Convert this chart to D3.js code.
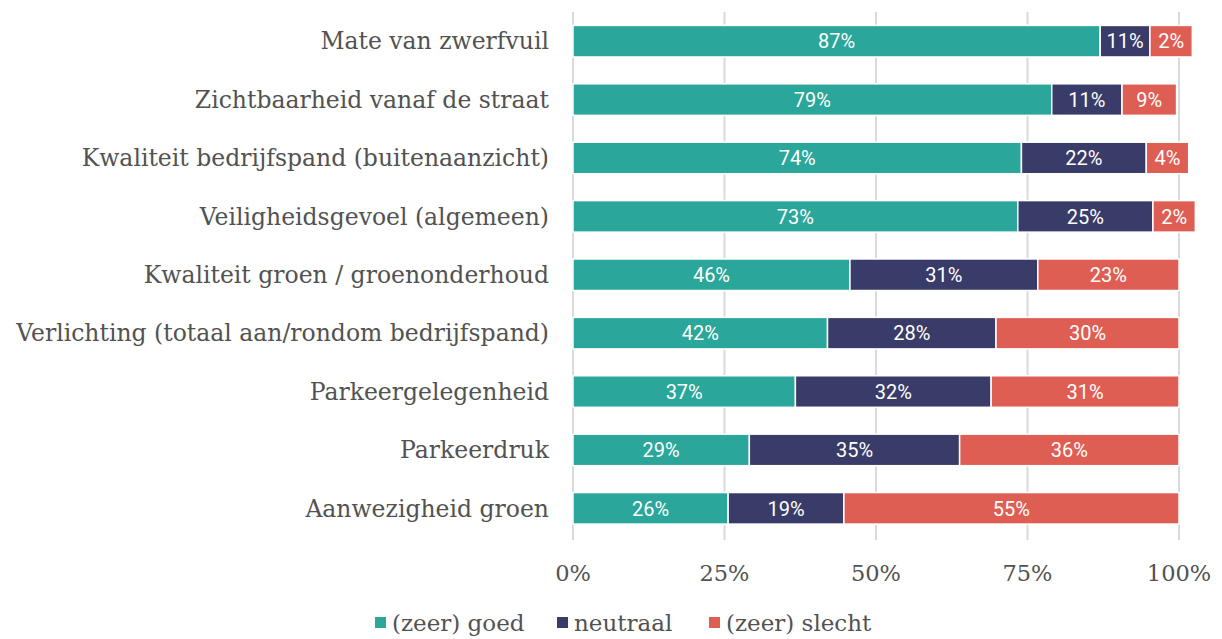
<!DOCTYPE html>
<html>
<head>
<meta charset="utf-8">
<script src="https://cdn.jsdelivr.net/npm/d3@7"></script>
<style>
  body { margin: 0; background: #fff; }
  svg { display: block; }
</style>
</head>
<body>
<div id="chart"></div>
<script>
// categories, top to bottom
var categories = [
  "Mate van zwerfvuil",
  "Zichtbaarheid vanaf de straat",
  "Kwaliteit bedrijfspand (buitenaanzicht)",
  "Veiligheidsgevoel (algemeen)",
  "Kwaliteit groen / groenonderhoud",
  "Verlichting (totaal aan/rondom bedrijfspand)",
  "Parkeergelegenheid",
  "Parkeerdruk",
  "Aanwezigheid groen"
];
// segment lengths as drawn in the picture (%)
var goed     = [87, 79, 74, 73.4, 45.7, 42, 36.7, 29.1, 25.6];
var neutraal = [8.2, 11.6, 20.6, 22.3, 31, 27.8, 32.3, 34.7, 19.1];
var slecht   = [7.0, 9.0, 7.0, 7.0, 23.3, 30.2, 31, 36.2, 55.3];
// printed labels
var goedLabels     = [87, 79, 74, 73, 46, 42, 37, 29, 26];
var neutraalLabels = [11, 11, 22, 25, 31, 28, 32, 35, 19];
var slechtLabels   = [2, 9, 4, 2, 23, 30, 31, 36, 55];

var seriesNames = ["(zeer) goed", "neutraal", "(zeer) slecht"];
var colors = ["#2aa69b", "#393b69", "#df5e53"];
var ticks = [0, 25, 50, 75, 100];

var width = 1222, height = 639;
var serif = "'DejaVu Serif', serif";

var svg = d3.select("#chart").append("svg")
    .attr("width", width)
    .attr("height", height);

var x = d3.scaleLinear().domain([0, 100]).range([573, 1179]);
var y = d3.scaleBand().domain(categories).range([12, 537.5])
    .paddingInner(0.46).paddingOuter(0.23);

// gridlines
svg.append("g").selectAll("line")
    .data(ticks)
    .enter().append("line")
    .attr("x1", d => x(d)).attr("x2", d => x(d))
    .attr("y1", 12).attr("y2", 540)
    .attr("stroke", "#dadada")
    .attr("stroke-width", 2);

// tick labels
svg.append("g").selectAll("text")
    .data(ticks)
    .enter().append("text")
    .attr("x", d => x(d))
    .attr("y", 581)
    .attr("text-anchor", "middle")
    .style("font-family", serif)
    .style("font-size", "22.5px")
    .style("fill", "#525252")
    .text(d => d + "%");

// category labels
svg.append("g").selectAll("text")
    .data(categories)
    .enter().append("text")
    .attr("x", 549)
    .attr("y", d => y(d) + y.bandwidth() / 2)
    .attr("dy", "0.35em")
    .attr("text-anchor", "end")
    .style("font-family", serif)
    .style("font-size", "23.5px")
    .style("fill", "#525252")
    .text(d => d);

// stacked segments
var rows = categories.map((c, i) => ({cat: c, vals: [goed[i], neutraal[i], slecht[i]],
    labels: [goedLabels[i], neutraalLabels[i], slechtLabels[i]]}));

rows.forEach(r => {
  let start = 0;
  r.vals.forEach((v, k) => {
    let g = svg.append("g");
    g.append("rect")
      .attr("x", x(start))
      .attr("y", y(r.cat))
      .attr("width", x(start + v) - x(start))
      .attr("height", y.bandwidth())
      .attr("fill", colors[k])
      .attr("stroke", "#fff")
      .attr("stroke-width", 1.5);
    g.append("text")
      .attr("x", x(start + v / 2))
      .attr("y", y(r.cat) + y.bandwidth() / 2)
      .attr("dy", "0.36em")
      .attr("text-anchor", "middle")
      .style("font-family", "Roboto, sans-serif")
      .style("font-size", "20px")
      .style("fill", "#fff")
      .text(r.labels[k] + "%");
    start += v;
  });
});

// legend
var legendX = [375, 557, 709];
var legend = svg.append("g").selectAll("g")
    .data(seriesNames)
    .enter().append("g")
    .attr("transform", (d, i) => "translate(" + legendX[i] + ",623)");
legend.append("rect")
    .attr("x", 0).attr("y", -6)
    .attr("width", 11).attr("height", 11)
    .attr("fill", (d, i) => colors[i]);
legend.append("text")
    .attr("x", 17)
    .attr("dy", "0.35em")
    .style("font-family", serif)
    .style("font-size", "23px")
    .style("fill", "#525252")
    .text(d => d);
</script>
</body>
</html>
